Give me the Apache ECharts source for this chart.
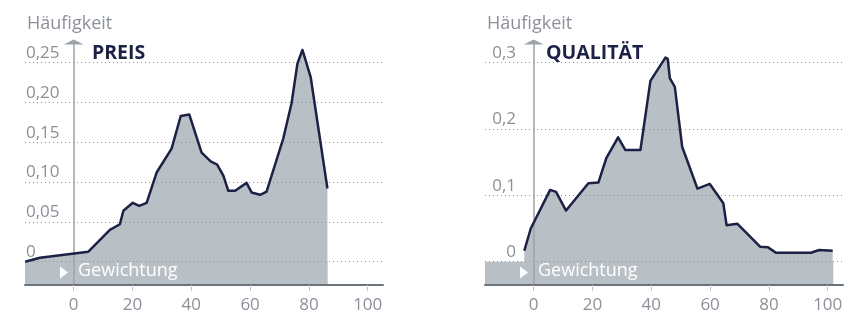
<!DOCTYPE html>
<html>
<head>
<meta charset="utf-8">
<script src="https://cdn.jsdelivr.net/npm/echarts@6/dist/echarts.min.js"></script>
<style>
  html, body { margin: 0; padding: 0; background: #fff; }
  #chart { width: 851px; height: 319px; }
</style>
</head>
<body>
<div id="chart"></div>
<script>
// Preis: Gewichtung (x) vs. Häufigkeit (y)
const preisX = [-16.5, -11.5, 5.0, 12.3, 15.7, 16.9, 20.1, 22.3, 24.8, 28.2, 33.3, 36.4, 39.3, 43.5, 46.6, 48.8,
  50.9, 52.6, 54.9, 58.8, 60.5, 63.4, 65.6, 71.3, 74.1, 76.1, 77.8, 80.6, 86.3];
const preisY = [0.000, 0.005, 0.0126, 0.040, 0.047, 0.064, 0.074, 0.070, 0.074, 0.112, 0.142, 0.183, 0.185, 0.137, 0.126, 0.122,
  0.108, 0.089, 0.089, 0.099, 0.087, 0.084, 0.088, 0.155, 0.199, 0.249, 0.266, 0.232, 0.092];

// Qualität
const qualX = [-3.2, -1.0, 5.6, 7.6, 11.0, 18.6, 22.0, 24.7, 28.7, 31.2, 36.3, 39.7, 44.8, 45.6, 46.3, 48.0,
  50.5, 55.7, 59.9, 64.5, 65.6, 69.3, 77.0, 79.7, 82.4, 94.3, 97.1, 101.7];
const qualY = [0.0165, 0.050, 0.108, 0.105, 0.077, 0.118, 0.119, 0.156, 0.187, 0.168, 0.168, 0.272, 0.307, 0.305, 0.276, 0.263,
  0.173, 0.110, 0.117, 0.088, 0.055, 0.057, 0.0226, 0.0216, 0.0136, 0.0136, 0.0176, 0.0166];

const xTicks = [0, 20, 40, 60, 80, 100];
const preisTicks = [0, 0.05, 0.10, 0.15, 0.20, 0.25];
const qualTicks = [0, 0.1, 0.2, 0.3];

const xRange = [-16.56, 105.2];
const preisRange = [-0.0293, 0.276];
const qualRange = [-0.035, 0.3305];
const preisBandEnd = 86.3;
const qualBandEnd = 101.9;

const GREY = '#8b9099';
const NAVY = '#1c2145';
const FILL = '#b8bfc5';
const FONT = 'Open Sans';

const pairs = (xs, ys) => xs.map((x, i) => [x, ys[i]]);
const fmt = (d) => (v) => v === 0 ? '0' : v.toFixed(d).replace('.', ',');

function xAxisFor(gridIndex) {
  return {
    type: 'value', gridIndex, min: xRange[0], max: xRange[1], z: 2,
    axisLine: { onZero: false, lineStyle: { color: '#6d737b', width: 2 } },
    axisTick: { show: true, customValues: xTicks, length: 6, lineStyle: { color: '#c3c7cb', width: 1 } },
    axisLabel: { customValues: xTicks, color: GREY, fontFamily: FONT, fontSize: 17, margin: 12 },
    splitLine: { show: false }
  };
}

function yAxisFor(gridIndex, range, ticks, decimals, align, margin) {
  return {
    type: 'value', gridIndex, min: range[0], max: range[1], z: 2,
    axisLine: {
      show: true, onZero: true,
      symbol: ['none', 'triangle'], symbolSize: [20, 5],
      lineStyle: { color: '#9ea3a9', width: 1.5 }
    },
    axisTick: { show: false, customValues: ticks },
    axisLabel: {
      customValues: ticks, formatter: fmt(decimals), color: GREY, fontFamily: FONT, fontSize: 17,
      align, verticalAlign: 'bottom', margin, lineHeight: 17, padding: [0, 0, 1, 0]
    },
    splitLine: { show: true, lineStyle: { color: GREY, width: 1, type: [1, 3] } }
  };
}

function seriesFor(idx, xs, ys, bandStart, bandEnd) {
  return [
    {
      type: 'line', xAxisIndex: idx, yAxisIndex: idx, z: 1, silent: true,
      data: [[bandStart, 0], [bandEnd, 0]], symbol: 'none',
      lineStyle: { width: 0 }, areaStyle: { color: FILL, opacity: 1, origin: 'start' }
    },
    {
      type: 'line', xAxisIndex: idx, yAxisIndex: idx, z: 1, silent: true,
      data: pairs(xs, ys), symbol: 'none',
      lineStyle: { width: 0 }, areaStyle: { color: FILL, opacity: 1, origin: 'start' }
    },
    {
      type: 'line', xAxisIndex: idx, yAxisIndex: idx, z: 3, silent: true,
      data: pairs(xs, ys), symbol: 'none',
      lineStyle: { color: NAVY, width: 2.5, join: 'round' }
    }
  ];
}

function panelText(x0, title, titleX) {
  return [
    { type: 'text', left: x0 + 2, top: 15, style: { text: 'Häufigkeit', fill: GREY, font: '18px "Open Sans"' } },
    { type: 'text', left: titleX, top: 43, style: { text: title, fill: NAVY, font: 'bold 19.5px "Open Sans"' } },
    { type: 'polygon', shape: { points: [[x0 + 35, 266.5], [x0 + 35, 278.5], [x0 + 43, 272.5]] }, style: { fill: '#fff' }, z: 10 },
    { type: 'text', left: x0 + 53, top: 262, style: { text: 'Gewichtung', fill: '#fff', font: '18px "Open Sans"' }, z: 10 }
  ];
}

const chart = echarts.init(document.getElementById('chart'), null, { renderer: 'canvas' });
chart.setOption({
  animation: false,
  textStyle: { fontFamily: FONT },
  grid: [
    { left: 25, width: 358, top: 42, bottom: 34, outerBoundsMode: 'none', containLabel: false },
    { left: 485, width: 358, top: 42, bottom: 34, outerBoundsMode: 'none', containLabel: false }
  ],
  xAxis: [xAxisFor(0), xAxisFor(1)],
  yAxis: [
    yAxisFor(0, preisRange, preisTicks, 2, 'left', -1),
    yAxisFor(1, qualRange, qualTicks, 1, 'right', -31)
  ],
  series: [
    ...seriesFor(0, preisX, preisY, xRange[0], preisBandEnd),
    ...seriesFor(1, qualX, qualY, xRange[0], qualBandEnd)
  ],
  graphic: [...panelText(25, 'PREIS', 92), ...panelText(485, 'QUALITÄT', 546)]
});
</script>
</body>
</html>
